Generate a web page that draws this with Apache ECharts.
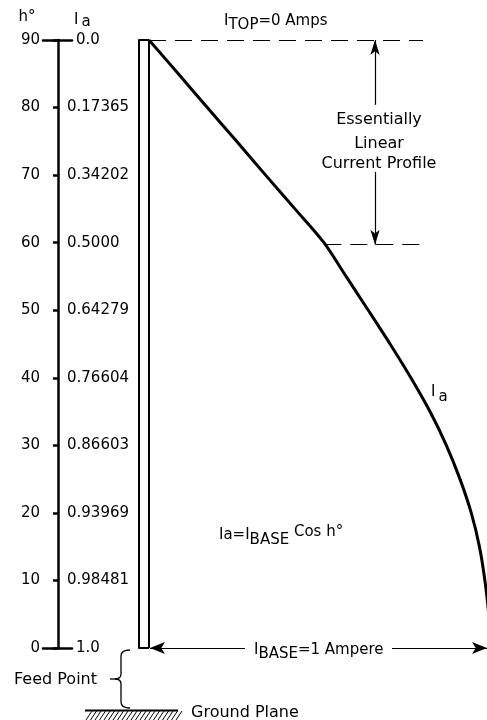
<!DOCTYPE html>
<html>
<head>
<meta charset="utf-8">
<script src="https://cdn.jsdelivr.net/npm/echarts@6/dist/echarts.min.js"></script>
<style>
html,body{margin:0;padding:0;background:#fff;}
#chart{width:487px;height:720px;}
</style>
</head>
<body>
<div id="chart"></div>
<script>
// ---- data ----
// scale ticks (h in degrees) and their I_a labels
const hTicks = [0, 10, 20, 30, 40, 50, 60, 70, 80, 90];
const iaTickLabels = ['1.0', '0.98481', '0.93969', '0.86603', '0.76604', '0.64279', '0.5000', '0.34202', '0.17365', '0.0'];
// current profile as drawn (amperes, I_BASE = 1), read every 5 degrees of height
const profileHeight = [0, 5, 10, 15, 20, 25, 30, 35, 40, 45, 50, 55, 60, 65, 70, 75, 80, 85, 90];
const profileCurrent = [1.0, 0.996, 0.985, 0.969, 0.945, 0.912, 0.872, 0.824, 0.768, 0.707, 0.643, 0.578, 0.513, 0.428, 0.342, 0.257, 0.171, 0.086, 0.0];

// ---- layout constants ----
const FONT = 'DejaVu Sans';
const X_MIN = -0.0293, X_MAX = 0.9912;
const DASH_END = 0.8035, DASH60_START = 0.514, ARROW_X = 0.6628, H60 = 59.7;

const chart = echarts.init(document.getElementById('chart'), null, {renderer: 'canvas'});

function rs(pt, extra) {
  return Object.assign({fontFamily: FONT, fontSize: 15, fill: '#000', color: '#000', verticalAlign: 'top', padding: [pt, 0, 0, 0]}, extra || {});
}

const lineStyleG = {stroke: '#000', lineWidth: 1.3, fill: 'none'};
const hatch = [];
for (let x = 86; x < 178; x += 4.5) {
  hatch.push({type: 'line', shape: {x1: x, y1: 720, x2: x + 6, y2: 711}, style: {stroke: '#000', lineWidth: 1}});
}
const brace = [
  {type: 'bezierCurve', shape: {x1: 130, y1: 650, cpx1: 121, cpy1: 650, x2: 121, y2: 656}, style: lineStyleG},
  {type: 'line', shape: {x1: 121, y1: 656, x2: 121, y2: 674}, style: lineStyleG},
  {type: 'bezierCurve', shape: {x1: 121, y1: 674, cpx1: 121, cpy1: 679, x2: 115, y2: 679}, style: lineStyleG},
  {type: 'bezierCurve', shape: {x1: 115, y1: 679, cpx1: 121, cpy1: 679, x2: 121, y2: 684}, style: lineStyleG},
  {type: 'line', shape: {x1: 121, y1: 684, x2: 121, y2: 702}, style: lineStyleG},
  {type: 'bezierCurve', shape: {x1: 121, y1: 702, cpx1: 121, cpy1: 708, x2: 130, y2: 708}, style: lineStyleG},
  {type: 'line', shape: {x1: 110, y1: 679, x2: 115, y2: 679}, style: lineStyleG}
];

const solid2 = {type: 'solid', width: 2, color: '#000'};
const dashed = {type: [17, 9], width: 1.2, color: '#000'};
const thin = {type: 'solid', width: 1.2, color: '#000'};

const option = {
  animation: false,
  backgroundColor: '#fff',
  grid: [
    {left: 43, top: 40, width: 29, bottom: 72, containLabel: false, outerBoundsMode: 'none'},
    {left: 139, top: 40, right: 0, bottom: 72, containLabel: false, outerBoundsMode: 'none'}
  ],
  xAxis: [
    {gridIndex: 0, type: 'value', min: 0, max: 1, position: 'top',
     axisLine: {show: true, onZero: false, lineStyle: {color: '#000', width: 2.5}},
     axisTick: {show: false}, axisLabel: {show: false}, splitLine: {show: false}},
    {gridIndex: 0, type: 'value', min: 0, max: 1, position: 'bottom',
     axisLine: {show: true, onZero: false, lineStyle: {color: '#000', width: 2.5}},
     axisTick: {show: false}, axisLabel: {show: false}, splitLine: {show: false}},
    {gridIndex: 1, type: 'value', min: X_MIN, max: X_MAX, show: false, splitLine: {show: false}}
  ],
  yAxis: [
    {gridIndex: 0, type: 'value', min: 0, max: 90, interval: 10, position: 'left', offset: -15,
     axisLine: {show: true, onZero: false, lineStyle: {color: '#000', width: 2.5}},
     axisTick: {show: true, length: 5, lineStyle: {color: '#000', width: 2.5}},
     axisLabel: {show: true, margin: 18, color: '#000', fontFamily: FONT, fontSize: 15,
                 showMinLabel: true, showMaxLabel: true},
     splitLine: {show: false}},
    {gridIndex: 0, type: 'value', min: 0, max: 90, interval: 10, position: 'right', offset: -14,
     axisLine: {show: false, onZero: false}, axisTick: {show: false},
     axisLabel: {show: true, margin: 9, color: '#000', fontFamily: FONT, fontSize: 15,
                 showMinLabel: true, showMaxLabel: true,
                 formatter: function (v) {
                   const i = hTicks.indexOf(v);
                   if (i < 0) return '';
                   const s = iaTickLabels[i];
                   return (i === 0 || i === hTicks.length - 1) ? '{e|' + s + '}' : s;
                 },
                 rich: {e: {fontFamily: FONT, fontSize: 15, color: '#000', padding: [0, 0, 0, 9]}}},
     splitLine: {show: false}},
    {gridIndex: 1, type: 'value', min: 0, max: 90, position: 'left',
     axisLine: {show: true, onZero: false, lineStyle: {color: '#000', width: 2}},
     axisTick: {show: false}, axisLabel: {show: false}, splitLine: {show: false}}
  ],
  series: [
    {
      type: 'line', xAxisIndex: 2, yAxisIndex: 2,
      data: profileHeight.map((h, i) => [profileCurrent[i], h]),
      smooth: 0.3, showSymbol: false, symbol: 'none', clip: true,
      lineStyle: {color: '#000', width: 3},
      markLine: {
        silent: true, symbol: ['none', 'none'], label: {show: false},
        emphasis: {disabled: true},
        data: [
          {xAxis: 0, lineStyle: solid2},
          [{coord: [X_MIN, 90], lineStyle: solid2}, {coord: [0, 90]}],
          [{coord: [X_MIN, 0], lineStyle: solid2}, {coord: [0, 0]}],
          [{coord: [0, 90], lineStyle: dashed}, {coord: [DASH_END, 90]}],
          [{coord: [DASH60_START, H60], lineStyle: dashed}, {coord: [DASH_END, H60]}],
          [{coord: [ARROW_X, 80.4], lineStyle: thin}, {coord: [ARROW_X, 90], symbol: 'arrow', symbolSize: [7, 15]}],
          [{coord: [ARROW_X, 70.45], lineStyle: thin}, {coord: [ARROW_X, H60], symbol: 'arrow', symbolSize: [7, 15]}],
          [{coord: [0.0029, 0], lineStyle: thin, symbol: 'arrow', symbolSize: [9, 15]}, {coord: [0.2815, 0]}],
          [{coord: [0.7126, 0], lineStyle: thin}, {coord: [X_MAX, 0], symbol: 'arrow', symbolSize: [9, 15]}]
        ]
      }
    }
  ],
  graphic: [
    {type: 'text', x: 27, y: 17, style: {text: 'h°', font: '15px "DejaVu Sans"', fill: '#000', align: 'center', verticalAlign: 'middle'}},
    {type: 'text', x: 74, y: 13, style: {text: '{m|I}{s|a}', rich: {m: rs(0), s: rs(2, {padding: [2, 0, 0, 3]})}}},
    {type: 'text', x: 224, y: 14, style: {text: '{m|I}{s|TOP}{m|=0 Amps}', rich: {m: rs(0), s: rs(4)}}},
    {type: 'text', x: 379, y: 120, style: {text: 'Essentially', font: '16px "DejaVu Sans"', fill: '#000', align: 'center', verticalAlign: 'middle'}},
    {type: 'text', x: 379, y: 144, style: {text: 'Linear', font: '16px "DejaVu Sans"', fill: '#000', align: 'center', verticalAlign: 'middle'}},
    {type: 'text', x: 379, y: 164, style: {text: 'Current Profile', font: '16px "DejaVu Sans"', fill: '#000', align: 'center', verticalAlign: 'middle'}},
    {type: 'text', x: 431, y: 385, style: {text: '{m|I}{s|a}', rich: {m: rs(0), s: rs(5, {padding: [5, 0, 0, 3]})}}},
    {type: 'text', x: 219, y: 525, style: {text: '{m|I}{m|a=I}{s|BASE}{u| Cos h°}', rich: {m: rs(3), s: rs(8), u: rs(0)}}},
    {type: 'text', x: 254, y: 643, style: {text: '{m|I}{s|BASE}{m|=1 Ampere}', rich: {m: rs(0), s: rs(4)}}},
    {type: 'text', x: 14, y: 680, style: {text: 'Feed Point', font: '16px "DejaVu Sans"', fill: '#000', align: 'left', verticalAlign: 'middle'}},
    {type: 'text', x: 191, y: 713, style: {text: 'Ground Plane', font: '16px "DejaVu Sans"', fill: '#000', align: 'left', verticalAlign: 'middle'}},
    {type: 'line', shape: {x1: 85, y1: 710.5, x2: 178, y2: 710.5}, style: {stroke: '#000', lineWidth: 2}},
    {type: 'group', children: brace},
    {type: 'group', children: hatch}
  ]
};
chart.setOption(option);
</script>
</body>
</html>
